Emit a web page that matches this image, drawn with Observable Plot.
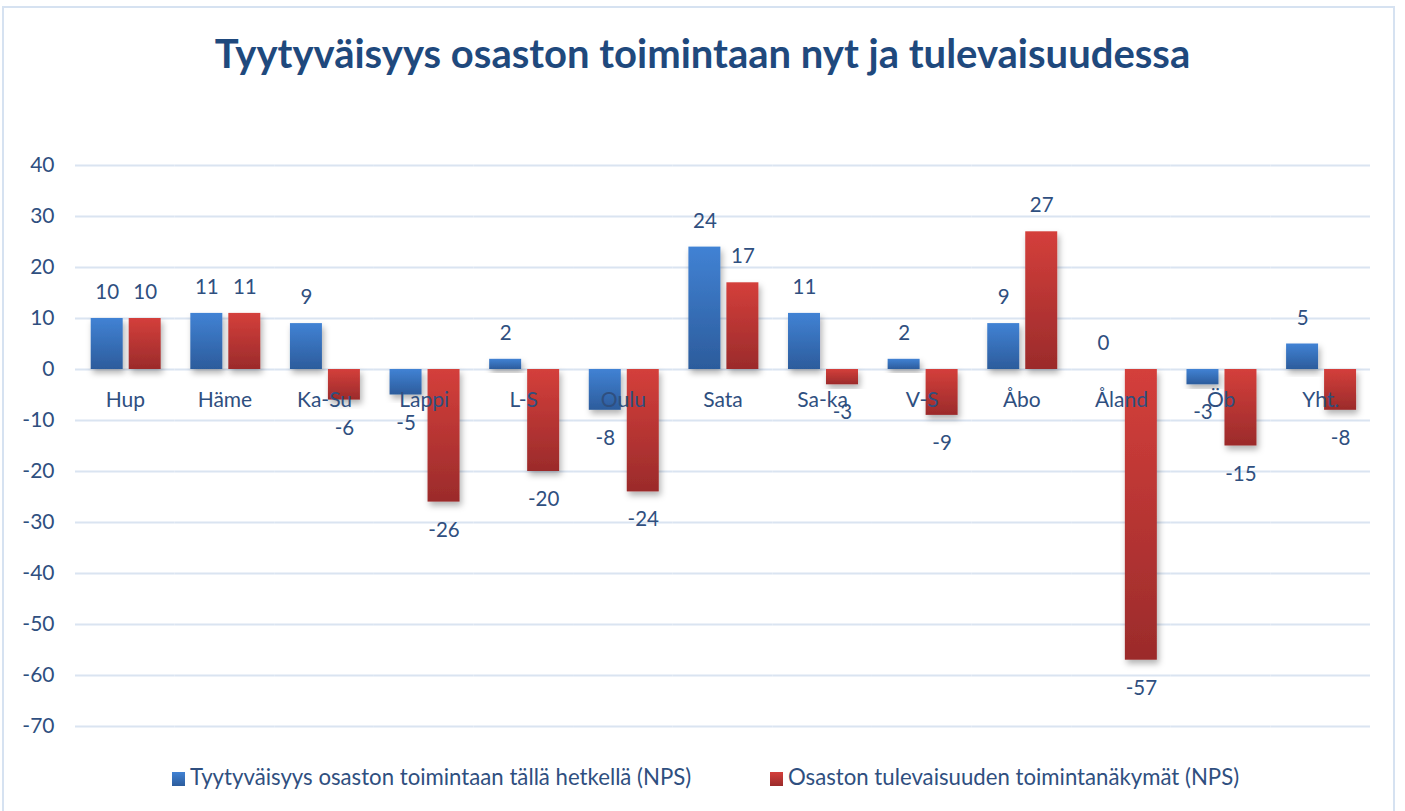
<!DOCTYPE html>
<html>
<head>
<meta charset="utf-8">
<script src="https://cdn.jsdelivr.net/npm/d3@7"></script>
<script src="https://cdn.jsdelivr.net/npm/@observablehq/plot@0.6"></script>
<style>
  html, body { margin: 0; padding: 0; background: #fff; }
  #wrap { position: relative; width: 1405px; height: 811px; overflow: hidden; font-family: Lato, "Open Sans", sans-serif; }
  #border { position: absolute; left: 2px; top: 6px; width: 1393px; height: 820px; border: 2px solid #D6E2F1; box-sizing: border-box; }
  #title { position: absolute; left: 0; top: 29px; width: 1405px; text-align: center; font-size: 40px; font-weight: 700; color: #1F497D; }
  #plot { position: absolute; left: 0; top: 100px; }
  #legend { position: absolute; top: 763px; left: 0; width: 1405px; height: 26px; font-size: 22.2px; color: #2F4F7F; }
  .li { position: absolute; top: 0; white-space: nowrap; }
  .sw { display: inline-block; width: 13px; height: 14px; margin-right: 5px; vertical-align: -1px; }
</style>
</head>
<body>
<div id="wrap">
  <div id="border"></div>
  <div id="title">Tyytyväisyys osaston toimintaan nyt ja tulevaisuudessa</div>
  <div id="plot"></div>
  <div id="legend"></div>
</div>
<script>
const categories = ["Hup", "Häme", "Ka-Su", "Lappi", "L-S", "Oulu", "Sata", "Sa-ka", "V-S", "Åbo", "Åland", "Öb", "Yht."];
const seriesNames = ["Tyytyväisyys osaston toimintaan tällä hetkellä (NPS)", "Osaston tulevaisuuden toimintanäkymät (NPS)"];
const currentValues = [10, 11, 9, -5, 2, -8, 24, 11, 2, 9, 0, -3, 5];
const futureValues = [10, 11, -6, -26, -20, -24, 17, -3, -9, 27, -57, -15, -8];
const yTicks = [40, 30, 20, 10, 0, -10, -20, -30, -40, -50, -60, -70];

const data = categories.flatMap((c, i) => [
  {cat: c, s: seriesNames[0], v: currentValues[i]},
  {cat: c, s: seriesNames[1], v: futureValues[i]}
]);

const textColor = "#2F4F7F";
const font = "Lato, 'Open Sans', sans-serif";

const svg = Plot.plot({
  width: 1405,
  height: 650,
  marginLeft: 75,
  marginRight: 35,
  marginTop: 65,
  marginBottom: 24,
  fx: {domain: categories, padding: 0, round: false, axis: null},
  x: {domain: seriesNames, paddingInner: 0.158, paddingOuter: 0.39, align: 0.53, round: false, axis: null},
  y: {domain: [-70, 40], ticks: yTicks, tickSize: 0, tickPadding: 21, label: null, tickFormat: d => String(d)},
  color: {domain: seriesNames, range: ["url(#gradBlue)", "url(#gradRed)"]},
  style: {fontFamily: font, fontSize: "21px", color: textColor, background: "transparent", overflow: "visible"},
  marks: [
    Plot.ruleY(yTicks, {stroke: "#DAE4F1", strokeWidth: 2}),
    Plot.barY(data, {fx: "cat", x: "s", y: "v", fill: "s"}),
    Plot.text(categories, {fx: d => d, y: 0, text: d => d, dy: 31, fontSize: 21, fill: textColor}),
    Plot.text(data.filter(d => d.v >= 0), {fx: "cat", x: "s", y: "v", text: d => String(d.v), dy: -26, fontSize: 20.5, fill: textColor}),
    Plot.text(data.filter(d => d.v < 0), {fx: "cat", x: "s", y: "v", text: d => String(d.v), dy: 28, fontSize: 20.5, fill: textColor})
  ]
});

const s = d3.select(svg);
const defs = s.insert("defs", ":first-child");
const gb = defs.append("linearGradient").attr("id", "gradBlue").attr("x1", 0).attr("y1", 0).attr("x2", 0).attr("y2", 1);
gb.append("stop").attr("offset", "0%").attr("stop-color", "#4182D4");
gb.append("stop").attr("offset", "100%").attr("stop-color", "#2C5C9C");
const gr = defs.append("linearGradient").attr("id", "gradRed").attr("x1", 0).attr("y1", 0).attr("x2", 0).attr("y2", 1);
gr.append("stop").attr("offset", "0%").attr("stop-color", "#D43F3B");
gr.append("stop").attr("offset", "100%").attr("stop-color", "#9B2B2B");
const f = defs.append("filter").attr("id", "shadow").attr("x", "-20%").attr("y", "-20%").attr("width", "150%").attr("height", "150%");
f.append("feDropShadow").attr("dx", 2).attr("dy", 4).attr("stdDeviation", 3).attr("flood-color", "#000").attr("flood-opacity", 0.3);
s.selectAll("g[aria-label='bar'] rect").attr("filter", "url(#shadow)");

document.getElementById("plot").appendChild(svg);

const legend = d3.select("#legend");
const lpos = [172, 770];
const lgrad = ["linear-gradient(#4182D4, #2C5C9C)", "linear-gradient(#D43F3B, #9B2B2B)"];
seriesNames.forEach((n, i) => {
  const item = legend.append("div").attr("class", "li").style("left", lpos[i] + "px");
  item.append("span").attr("class", "sw").style("background", lgrad[i]);
  item.append("span").text(n);
});
</script>
</body>
</html>
